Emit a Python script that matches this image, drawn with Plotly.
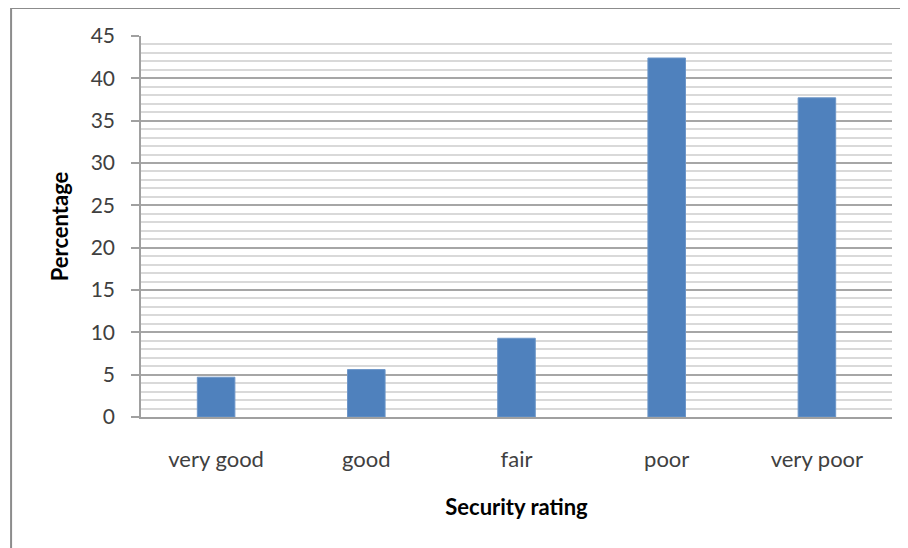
import plotly.graph_objects as go

# Data
ratings = ['very good', 'good', 'fair', 'poor', 'very poor']
percentages = [4.7, 5.6, 9.3, 42.4, 37.7]
y_ticks = [0, 5, 10, 15, 20, 25, 30, 35, 40, 45]

fig = go.Figure()
fig.add_trace(go.Bar(
    x=ratings,
    y=percentages,
    marker=dict(color='#4f81bd', line=dict(color='#6d96c8', width=1)),
    width=0.25,
))

FONT = 'Lato, Open Sans, sans-serif'

# page body adds an 8px offset, margins are compensated for it
fig.update_layout(
    width=908, height=548,
    margin=dict(l=133, r=24, t=28, b=139),
    paper_bgcolor='white',
    plot_bgcolor='white',
    showlegend=False,
    font=dict(family=FONT, size=22, color='#404040'),
    xaxis=dict(
        showgrid=False,
        showline=True, linecolor='#a0a0a0', linewidth=2,
        ticks='', ticklabelstandoff=22,
        tickfont=dict(size=22, color='#404040'),
        title=dict(text='Security rating', font=dict(size=22, color='black', weight='bold'), standoff=28),
    ),
    yaxis=dict(
        range=[0, 45],
        tickvals=y_ticks,
        showgrid=True, gridcolor='#a6a6a6', gridwidth=1.5,
        minor=dict(dtick=1, showgrid=True, gridcolor='#d9d9d9', gridwidth=1.5),
        showline=True, linecolor='#a0a0a0', linewidth=1.5,
        ticks='outside', ticklen=8, tickcolor='#a0a0a0', tickwidth=1.5,
        ticklabelstandoff=12,
        tickfont=dict(size=21, color='#404040'),
        zeroline=False,
        title=dict(text='Percentage', font=dict(size=22, color='black', weight='bold'), standoff=16),
    ),
    shapes=[dict(
        type='rect', xref='paper', yref='paper',
        x0=-0.173, x1=1.2, y0=-0.6, y1=1.0735,
        line=dict(color='#8c8c8c', width=2), layer='below',
    )],
)

fig.write_html('out.html')
